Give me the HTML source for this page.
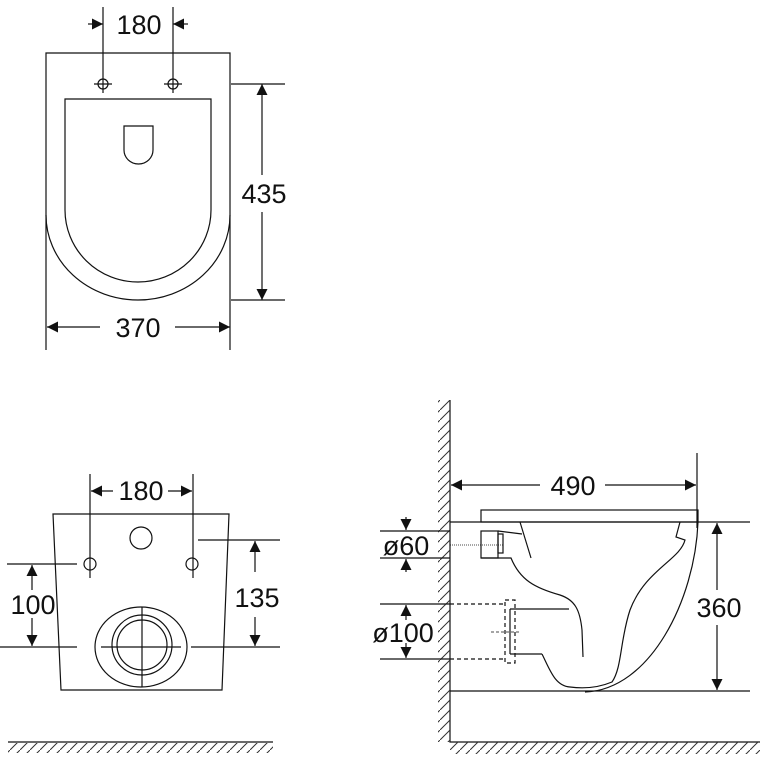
<!DOCTYPE html>
<html><head><meta charset="utf-8"><style>
html,body{margin:0;padding:0;background:#fff;}
svg{display:block}
text{font-family:"Liberation Sans","DejaVu Sans",sans-serif;font-size:27px;fill:#111;text-anchor:middle}
</style></head><body>
<svg width="760" height="760" viewBox="0 0 760 760" xmlns="http://www.w3.org/2000/svg">
<defs>
<marker id="a" viewBox="0 0 10 10" refX="10" refY="5" markerWidth="13" markerHeight="11" markerUnits="userSpaceOnUse" orient="auto"><path d="M0,0 L10,5 L0,10z" fill="#111"/></marker>
<pattern id="hw" width="10" height="10" patternUnits="userSpaceOnUse"><path d="M0,10 L10,0" stroke="#333" stroke-width="1"/></pattern>
</defs>
<g fill="none" stroke="#111" stroke-width="1.2">
<path d="M46,350 V53 H230 V350"/>
<path d="M46,215 A92,85 0 0 0 230,215"/>
<path d="M65,99 H211 V210 A73,72 0 0 1 65,210 Z"/>
<path d="M124,126 H153 V150 A14.5,14 0 0 1 124,150 Z"/>
<circle cx="103" cy="84" r="5"/><circle cx="173" cy="84" r="5"/>
<path d="M94,84 H112 M164,84 H182"/>
<path d="M103,7 V93 M173,7 V93"/>
<path d="M88,24 H103" marker-end="url(#a)"/><path d="M188,24 H173" marker-end="url(#a)"/>
<path d="M231,84 H285 M231,300 H285"/>
<path d="M262,175 V84" marker-end="url(#a)"/><path d="M262,212 V300" marker-end="url(#a)"/>
<path d="M100,327 H47" marker-end="url(#a)"/><path d="M175,327 H230" marker-end="url(#a)"/>
<path d="M53,514 H229 L222,690 H61 Z"/>
<circle cx="141" cy="538" r="11"/>
<circle cx="90" cy="564" r="6"/><circle cx="192" cy="564" r="6"/>
<path d="M90,474 V578 M193,474 V578"/>
<path d="M113,491 H91" marker-end="url(#a)"/><path d="M168,491 H192" marker-end="url(#a)"/>
<path d="M198,540 H280 M191,647 H280"/>
<path d="M255,572 V541" marker-end="url(#a)"/><path d="M255,617 V646" marker-end="url(#a)"/>
<path d="M7,564 H77 M0,647 H77"/>
<path d="M32,590 V565" marker-end="url(#a)"/><path d="M32,618 V646" marker-end="url(#a)"/>
<ellipse cx="141" cy="647" rx="46" ry="40"/>
<circle cx="142" cy="645" r="30"/><circle cx="142" cy="645" r="25"/>
<path d="M101,647 H181 M142,607 V687"/>
<path d="M8,742 H273"/>
<path d="M450,400 V742 H760"/>
<rect x="438" y="400" width="12" height="342" fill="url(#hw)" stroke="none"/>
<rect x="450" y="742" width="310" height="12" fill="url(#hw)" stroke="none"/>
<rect x="8" y="743" width="265" height="10" fill="url(#hw)" stroke="none"/>
<path d="M697,453 V528"/>
<path d="M540,485 H451" marker-end="url(#a)"/><path d="M605,485 H696" marker-end="url(#a)"/>
<rect x="481" y="510" width="217" height="12"/>
<path d="M450,522 H750 M450,691 H750"/>
<path d="M717,590 V523" marker-end="url(#a)"/><path d="M717,625 V690" marker-end="url(#a)"/>
<path d="M380,531 H450 M380,558 H450"/>
<path d="M406,517 V530" marker-end="url(#a)"/><path d="M406,572 V559" marker-end="url(#a)"/>
<path d="M380,604 H450 M380,659 H450"/>
<path d="M406,620 V605" marker-end="url(#a)"/><path d="M406,643 V658" marker-end="url(#a)"/>
<path d="M450,604 H506 M450,659 H506" stroke-dasharray="4,3"/>
<rect x="505" y="600" width="10" height="63" stroke-dasharray="4,3"/>
<path d="M450,545 H503" stroke-dasharray="1,1" stroke-width="0.8"/>
<path d="M491,632 H521" stroke-dasharray="3,2" stroke-width="0.8"/>
<rect x="481" y="531" width="17" height="27"/>
<rect x="498" y="534" width="5" height="19"/>
<path d="M498,531 L522,534 M520,522 L531,558"/>
<path d="M481,558 H511 C520,580 535,588 560,595 C575,600 580,610 582,630 L583,657"/>
<path d="M510,609 H569 M510,654 H542 M510,609 V654"/>
<path d="M542,654 C550,670 555,686 570,687 C585,689 600,687 612,682 C622,668 620,640 630,610 C645,570 680,560 685,540 L676,537 L680,522"/>
<path d="M698,522 C695,600 650,690 585,692"/>
</g>
<text x="139" y="34">180</text>
<text x="264" y="203">435</text>
<text x="138" y="337">370</text>
<text x="141" y="500">180</text>
<text x="257" y="607">135</text>
<text x="33" y="614">100</text>
<text x="573" y="495">490</text>
<text x="719" y="617">360</text>
<text x="406" y="555">ø60</text>
<text x="403" y="642">ø100</text>
</svg>
</body></html>
